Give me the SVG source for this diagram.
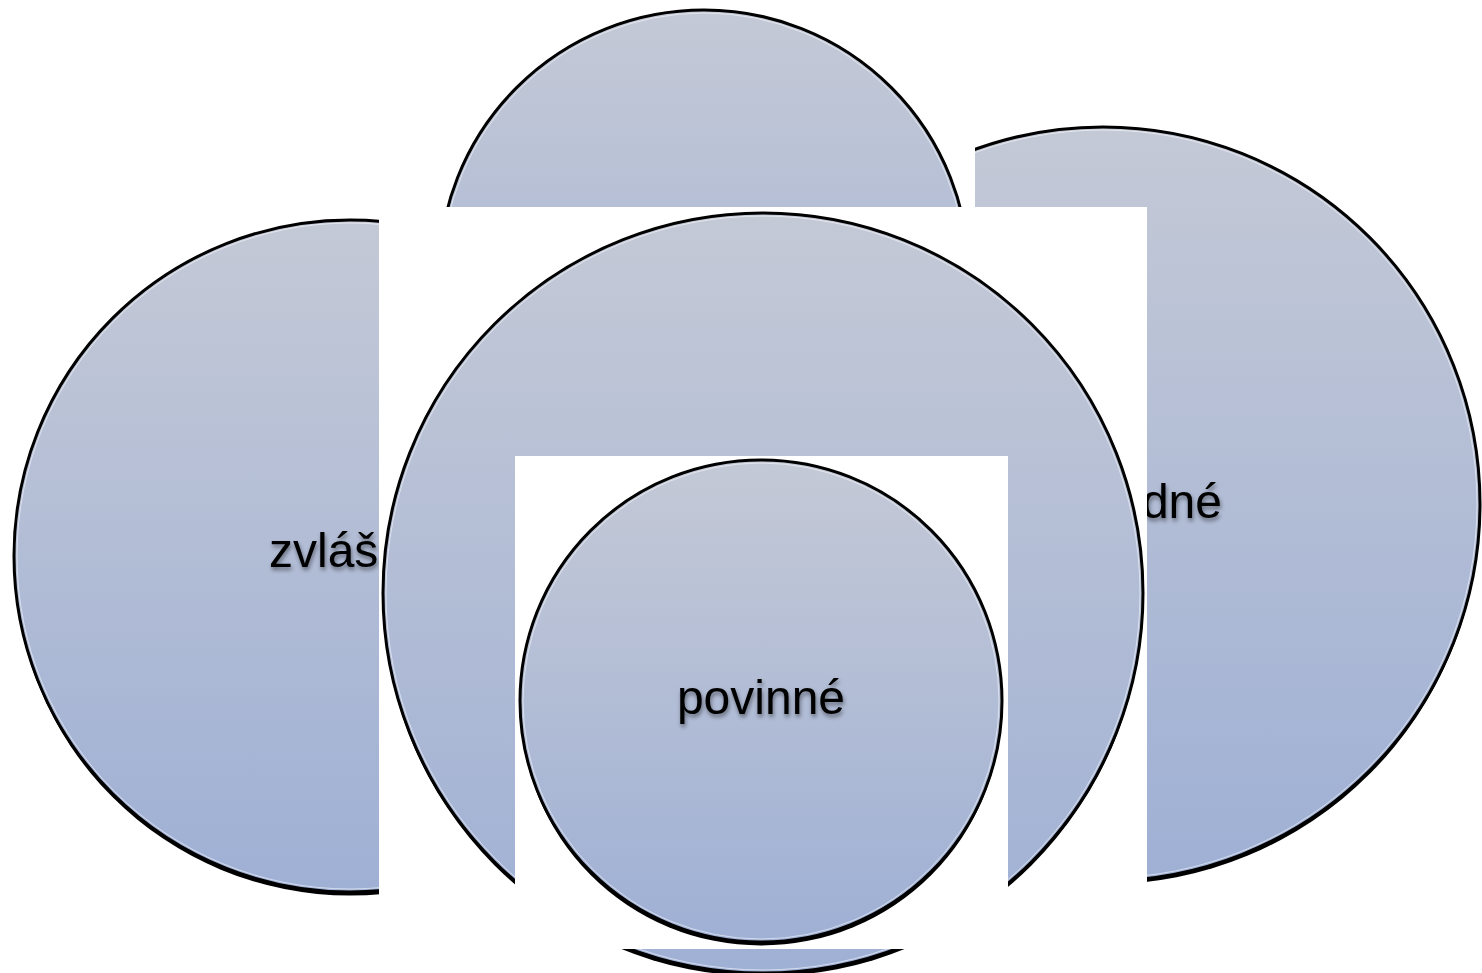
<svg xmlns="http://www.w3.org/2000/svg" width="1482" height="973" viewBox="0 0 1482 973">
  <defs>
    <linearGradient id="fillGrad" x1="0" y1="0" x2="0" y2="1">
      <stop offset="0" stop-color="#c4c9d6"/>
      <stop offset="1" stop-color="#9fb0d5"/>
    </linearGradient>
    <filter id="blurShadow" x="-10%" y="-10%" width="120%" height="120%">
      <feGaussianBlur stdDeviation="0.7"/>
    </filter>
    <filter id="textShadow" x="-20%" y="-40%" width="140%" height="180%">
      <feDropShadow dx="1" dy="3" stdDeviation="2" flood-color="#000" flood-opacity="0.45"/>
    </filter>
  </defs>
  <style>
    .shadow { fill: #000; filter: url(#blurShadow); }
    .disc { fill: url(#fillGrad); stroke: #000; stroke-width: 3; }
    .hi { fill: none; stroke: #ffffff; stroke-opacity: 0.55; stroke-width: 1; }
    .mask { fill: #ffffff; }
    .label { font-family: "Liberation Sans", Arial, sans-serif; font-size: 48px; fill: #000; filter: url(#textShadow); }
  </style>
  <rect x="0" y="0" width="1482" height="973" fill="#ffffff"/>

  <g id="node-left">
    <circle class="shadow" cx="350" cy="559.5" r="336"/>
    <circle class="disc" cx="350" cy="556" r="336"/>
    <circle class="hi" cx="350" cy="556" r="333"/>
    <text class="label" x="269" y="567">zvláš</text>
  </g>

  <g id="node-right">
    <circle class="shadow" cx="1103" cy="507.5" r="377"/>
    <circle class="disc" cx="1103" cy="504" r="377"/>
    <circle class="hi" cx="1103" cy="504" r="374"/>
    <text class="label" x="1222" y="518" text-anchor="end">dné</text>
  </g>

  <g id="node-top">
    <rect class="mask" x="437" y="0" width="538" height="207"/>
    <circle class="shadow" cx="704" cy="278.5" r="265"/>
    <circle class="disc" cx="704" cy="275" r="265"/>
    <circle class="hi" cx="704" cy="275" r="262"/>
  </g>

  <g id="node-center">
    <rect class="mask" x="379" y="207" width="768" height="766"/>
    <circle class="shadow" cx="763" cy="596.5" r="380"/>
    <circle class="disc" cx="763" cy="593" r="380"/>
    <circle class="hi" cx="763" cy="593" r="377"/>
  </g>

  <g id="node-povinne">
    <rect class="mask" x="515" y="456" width="493" height="493"/>
    <circle class="shadow" cx="761" cy="704.5" r="241"/>
    <circle class="disc" cx="761" cy="701" r="241"/>
    <circle class="hi" cx="761" cy="701" r="238"/>
    <text class="label" x="761" y="714" text-anchor="middle">povinné</text>
  </g>

  <g id="connectors"/>
</svg>
